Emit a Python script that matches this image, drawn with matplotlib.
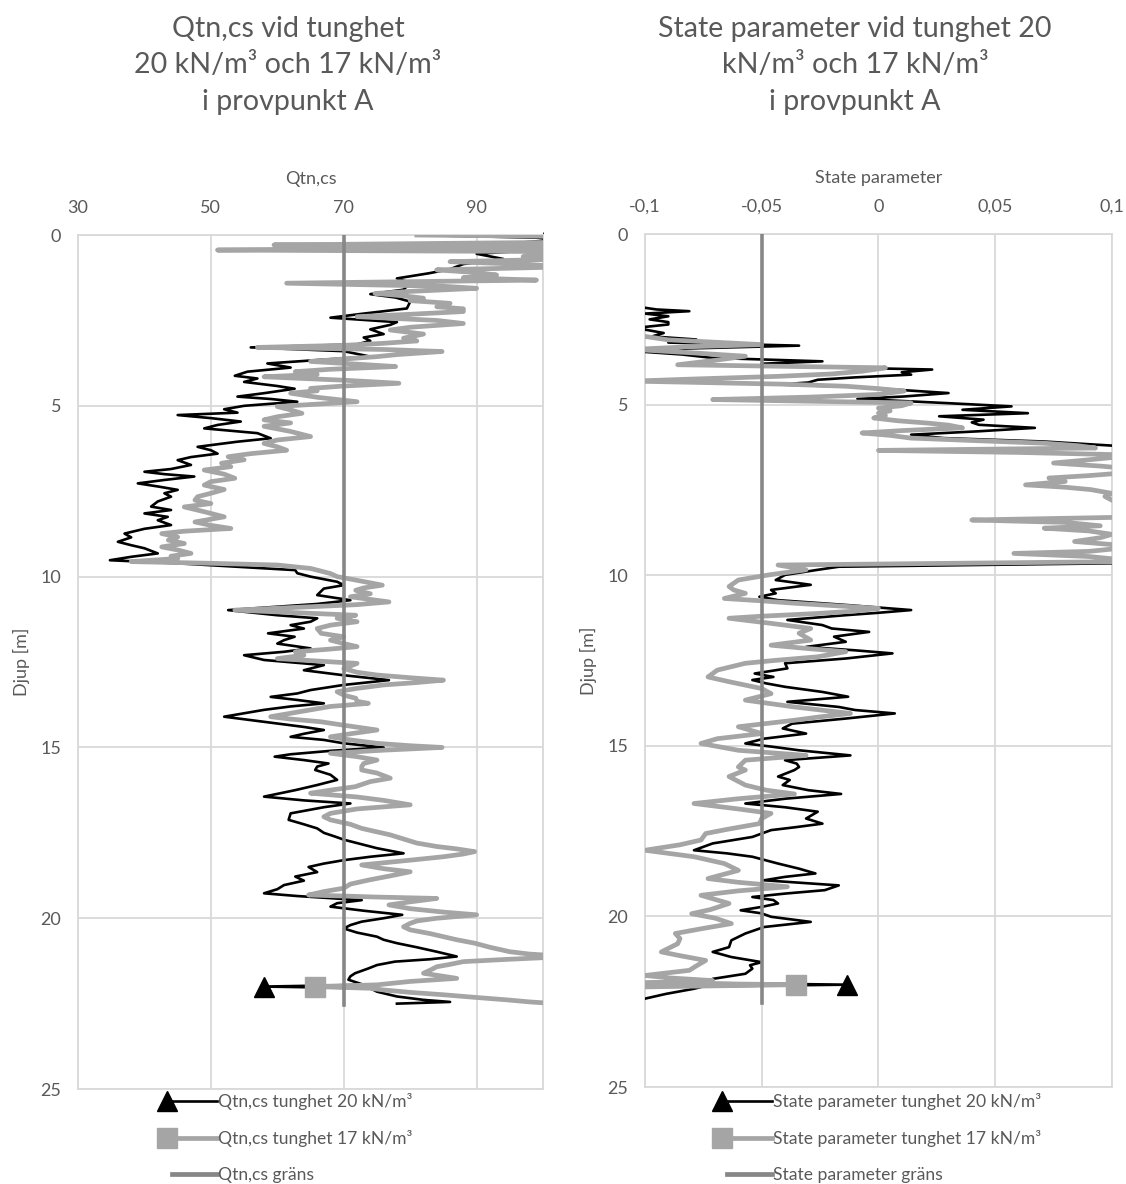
import numpy as np
import matplotlib
matplotlib.use("Agg")
import matplotlib.pyplot as plt
from matplotlib.lines import Line2D
from matplotlib.legend_handler import HandlerLine2DCompound

plt.rcParams['font.family'] = ['Lato', 'DejaVu Sans']

# Qtn,cs, tunghet 20 kN/m3 (djup [m], värde)
qtn20_depth = [0.0, 0.1, 0.25, 0.44, 0.55, 0.7, 0.85, 1.0, 1.12, 1.27, 1.4, 1.6, 1.73, 1.83, 1.95,
               2.15, 2.3, 2.42, 2.55, 2.63, 2.76, 2.9, 3.0, 3.1, 3.2, 3.29, 3.4, 3.56, 3.66, 3.76,
               3.88, 4.0, 4.12, 4.2, 4.3, 4.42, 4.5, 4.63, 4.73, 4.8, 4.88, 5.0, 5.1, 5.2, 5.27,
               5.36, 5.46, 5.56, 5.66, 5.73, 5.8, 5.95, 6.05, 6.2, 6.3, 6.4, 6.5, 6.59, 6.73, 6.85,
               6.93, 7.0, 7.07, 7.17, 7.27, 7.36, 7.46, 7.56, 7.66, 7.8, 7.95, 8.05, 8.15, 8.25, 8.35,
               8.49, 8.6, 8.74, 8.85, 8.98, 9.08, 9.17, 9.32, 9.42, 9.52, 9.61, 9.81, 9.9, 10.0, 10.15,
               10.25, 10.35, 10.54, 10.69, 10.8, 10.98, 11.05, 11.13, 11.22, 11.32, 11.42, 11.52, 11.66, 11.76, 11.86,
               11.96, 12.1, 12.2, 12.3, 12.44, 12.59, 12.74, 12.88, 13.03, 13.17, 13.32, 13.42, 13.52, 13.61, 13.71,
               13.8, 13.9, 14.0, 14.1, 14.2, 14.3, 14.4, 14.49, 14.6, 14.69, 14.78, 14.88, 15.0, 15.1, 15.2,
               15.27, 15.37, 15.47, 15.56, 15.66, 15.8, 15.95, 16.1, 16.25, 16.44, 16.55, 16.64, 16.75, 16.93, 17.12,
               17.25, 17.37, 17.5, 17.61, 17.7, 17.8, 17.95, 18.1, 18.2, 18.3, 18.4, 18.5, 18.65, 18.78, 18.9,
               19.03, 19.15, 19.27, 19.35, 19.47, 19.56, 19.66, 19.78, 19.9, 20.0, 20.1, 20.2, 20.3, 20.42, 20.54,
               20.63, 20.73, 20.85, 20.98, 21.12, 21.2, 21.27, 21.37, 21.47, 21.61, 21.7, 21.8, 21.95, 22.05, 22.15,
               22.29, 22.39, 22.45, 22.5]
qtn20_value = [81, 104, 95, 99, 90, 94, 88, 86, 82.8, 78, 80, 79, 74, 77.8, 80,
               79.5, 73, 68, 78, 77, 74, 76, 73, 74, 72, 56, 70, 74, 66, 58.5,
               62, 55.5, 53.6, 57, 55, 60, 62.6, 58, 54, 59, 63, 55, 52, 54, 45,
               50, 54.5, 51, 49, 53, 57, 59, 54, 48, 50, 51, 47, 45, 47, 44,
               40, 43, 47.5, 43, 39, 42, 45, 43, 44, 42, 41, 44, 40, 43.5, 42,
               44, 40, 37, 38, 36, 38, 40, 42, 38, 34.8, 45, 62.7, 63, 65, 69,
               70, 67, 66, 71, 66, 52.6, 56, 60, 66, 65, 62, 64, 58.6, 62.6, 61,
               60, 65, 61, 55, 58, 67, 64, 69.7, 76.8, 70, 65, 63, 59, 63, 67,
               62, 58, 55, 52, 56, 60, 64, 67, 64, 62, 67, 70, 76, 68, 62,
               59.6, 64, 67.7, 66, 65.7, 68, 69, 66, 62.7, 58, 64, 71, 67, 62, 61.7,
               64, 66, 67, 68.7, 70, 72, 75, 79, 74, 70, 67, 64.7, 66, 62.7, 64,
               61, 60, 58, 63, 72.7, 69, 68, 73, 78.8, 76, 72.7, 71, 70, 72, 75,
               76, 78, 81, 84, 87, 83, 77.7, 75, 73.7, 71.7, 71, 70.7, 73, 74, 75,
               78, 82, 86, 78]

# Qtn,cs, tunghet 17 kN/m3
qtn17_depth = [0.0, 0.05, 0.15, 0.2, 0.29, 0.35, 0.44, 0.49, 0.56, 0.63, 0.7, 0.78, 0.85, 0.93, 1.02,
               1.1, 1.17, 1.25, 1.32, 1.41, 1.5, 1.56, 1.65, 1.71, 1.78, 1.85, 1.92, 2.0, 2.1, 2.16,
               2.24, 2.32, 2.39, 2.5, 2.59, 2.7, 2.78, 2.9, 3.02, 3.1, 3.17, 3.23, 3.29, 3.35, 3.41,
               3.5, 3.56, 3.63, 3.7, 3.78, 3.85, 3.93, 4.0, 4.08, 4.15, 4.25, 4.34, 4.42, 4.49, 4.56,
               4.63, 4.75, 4.88, 4.95, 5.02, 5.12, 5.22, 5.32, 5.41, 5.5, 5.6, 5.75, 5.9, 6.0, 6.1,
               6.2, 6.3, 6.4, 6.49, 6.58, 6.68, 6.78, 6.88, 7.0, 7.12, 7.22, 7.32, 7.45, 7.56, 7.66,
               7.76, 7.86, 7.96, 8.1, 8.25, 8.4, 8.5, 8.59, 8.67, 8.74, 8.84, 8.93, 9.03, 9.13, 9.22,
               9.32, 9.4, 9.47, 9.56, 9.61, 9.66, 9.76, 9.91, 10.0, 10.1, 10.25, 10.33, 10.4, 10.5, 10.59,
               10.74, 10.82, 10.88, 10.98, 11.05, 11.13, 11.22, 11.32, 11.42, 11.52, 11.66, 11.76, 11.86, 11.96, 12.05,
               12.12, 12.2, 12.3, 12.4, 12.47, 12.54, 12.69, 12.8, 12.88, 12.96, 13.03, 13.1, 13.17, 13.27, 13.37,
               13.47, 13.56, 13.65, 13.71, 13.8, 13.9, 14.0, 14.1, 14.17, 14.25, 14.35, 14.49, 14.6, 14.69, 14.78,
               14.88, 14.95, 15.0, 15.08, 15.17, 15.27, 15.37, 15.47, 15.56, 15.66, 15.75, 15.9, 16.0, 16.15, 16.25,
               16.34, 16.45, 16.55, 16.68, 16.8, 16.93, 17.03, 17.12, 17.25, 17.37, 17.47, 17.56, 17.68, 17.8, 17.9,
               17.97, 18.05, 18.12, 18.2, 18.3, 18.44, 18.55, 18.64, 18.76, 18.88, 19.0, 19.12, 19.22, 19.32, 19.38,
               19.42, 19.52, 19.61, 19.72, 19.82, 19.9, 20.0, 20.08, 20.15, 20.25, 20.34, 20.45, 20.54, 20.63, 20.73,
               20.85, 20.98, 21.05, 21.12, 21.2, 21.27, 21.35, 21.42, 21.52, 21.61, 21.7, 21.76, 21.85, 21.95, 22.05,
               22.1, 22.17, 22.24, 22.32, 22.39, 22.45, 22.5]
qtn17_value = [81, 108, 105, 110, 59.5, 100, 51, 108, 100, 97, 105, 86, 96, 104, 84,
               90, 93, 88, 99, 61.4, 85, 90, 80, 74.7, 79, 82, 80, 86, 84, 88,
               88, 80, 72, 84, 88, 80, 77, 82, 79, 81, 76, 70, 57, 76, 84.8,
               78, 75, 70, 65, 72, 77.8, 68, 62.7, 66, 58, 70, 78.3, 70, 65, 66,
               62, 66, 72, 66, 60, 62, 63.7, 60, 58, 62, 58, 62, 65, 60, 58,
               60, 61.4, 56, 52.6, 55, 51.6, 53, 49, 52, 53.6, 50, 49, 52, 50, 48,
               47.6, 50, 46, 49, 52, 47.6, 50, 53, 46, 42.6, 45, 43.6, 46, 42.6, 45,
               47, 44, 45, 38, 50, 60, 65, 68, 69, 71.8, 75.8, 73, 71.8, 74, 71,
               76.8, 72, 65, 53.6, 62, 71.8, 69, 72, 68, 66, 66.6, 70, 68, 70, 72,
               68, 62.7, 64, 60, 66, 72, 70, 72, 75, 80, 85, 81, 76, 72, 69,
               70, 71.8, 72, 73.7, 68, 65, 62, 59, 62, 66.6, 70, 75, 71, 68, 71,
               75, 80, 84.8, 76, 68, 72, 75, 73, 72.7, 72.7, 75, 77, 74, 71.7, 68,
               65, 72, 76, 80, 72, 68, 67, 68, 71, 72.7, 75, 77, 79, 81, 84,
               87, 89.7, 88, 85, 80, 72.7, 76, 80, 77, 73.8, 71, 70, 67, 64.7, 75,
               84, 80, 76.8, 80, 85, 90, 84, 81, 80, 79, 80, 83, 85, 87, 89.7,
               92, 95, 98, 104, 95, 88, 86, 84, 83, 82, 85, 87, 80, 75, 74,
               76, 80, 85, 90, 94.6, 98, 102]

# State parameter, tunghet 20 kN/m3
sp20_depth = [0.0, 1.0, 2.0, 2.16, 2.21, 2.26, 2.33, 2.41, 2.5, 2.58, 2.65, 2.75, 2.9, 3.0, 3.09,
              3.18, 3.27, 3.35, 3.43, 3.53, 3.63, 3.73, 3.8, 3.88, 3.97, 4.05, 4.12, 4.2, 4.27, 4.35,
              4.41, 4.48, 4.54, 4.66, 4.76, 4.83, 4.95, 5.05, 5.15, 5.25, 5.34, 5.44, 5.52, 5.59, 5.68,
              5.78, 5.88, 5.98, 6.08, 6.2, 6.3, 6.37, 6.5, 7.0, 7.5, 8.0, 8.5, 9.0, 9.5, 9.65,
              9.75, 9.84, 9.99, 10.14, 10.28, 10.43, 10.53, 10.63, 10.73, 10.87, 11.02, 11.1, 11.17, 11.31, 11.46,
              11.56, 11.66, 11.8, 11.95, 12.1, 12.2, 12.29, 12.44, 12.58, 12.73, 12.88, 12.98, 13.07, 13.17, 13.27,
              13.42, 13.56, 13.71, 13.86, 13.95, 14.05, 14.2, 14.35, 14.49, 14.64, 14.79, 14.93, 15.03, 15.13, 15.28,
              15.42, 15.52, 15.62, 15.71, 15.9, 16.0, 16.15, 16.3, 16.41, 16.55, 16.69, 16.8, 16.93, 17.13, 17.28,
              17.38, 17.47, 17.67, 17.86, 18.06, 18.15, 18.25, 18.45, 18.6, 18.74, 18.84, 18.94, 19.09, 19.23, 19.33,
              19.43, 19.52, 19.62, 19.72, 19.82, 19.91, 20.01, 20.16, 20.31, 20.5, 20.6, 20.7, 20.9, 21.04, 21.19,
              21.34, 21.43, 21.53, 21.68, 21.83, 21.95, 22.05, 22.12, 22.27, 22.41, 22.5]
sp20_value = [-0.16, -0.15, -0.12, -0.1, -0.095, -0.081, -0.1, -0.09, -0.098, -0.09, -0.09, -0.104, -0.092, -0.097, -0.078,
              -0.09, -0.034, -0.08, -0.105, -0.084, -0.071, -0.024, -0.05, -0.04, 0.023, 0.01, 0.014, -0.01, -0.026, -0.03,
              -0.043, -0.01, 0.003, 0.03, 0.011, -0.009, 0.028, 0.057, 0.036, 0.064, 0.026, 0.045, 0.04, 0.043, 0.067,
              0.043, 0.014, 0.028, 0.071, 0.1, 0.104, 0.11, 0.12, 0.13, 0.12, 0.125, 0.12, 0.115, 0.11, 0.1,
              -0.017, -0.026, -0.04, -0.044, -0.029, -0.046, -0.044, -0.051, -0.043, -0.014, 0.014, 0.0, -0.014, -0.039, -0.024,
              -0.02, -0.004, -0.019, -0.014, -0.031, -0.01, 0.006, -0.014, -0.04, -0.039, -0.053, -0.045, -0.054, -0.048, -0.04,
              -0.024, -0.013, -0.039, -0.017, -0.01, 0.007, -0.014, -0.037, -0.041, -0.031, -0.049, -0.057, -0.045, -0.034, -0.012,
              -0.04, -0.035, -0.034, -0.036, -0.043, -0.038, -0.041, -0.03, -0.016, -0.04, -0.057, -0.04, -0.026, -0.031, -0.024,
              -0.035, -0.046, -0.054, -0.071, -0.079, -0.065, -0.054, -0.043, -0.034, -0.027, -0.04, -0.049, -0.017, -0.023, -0.04,
              -0.054, -0.045, -0.043, -0.05, -0.059, -0.05, -0.046, -0.029, -0.049, -0.057, -0.06, -0.063, -0.064, -0.071, -0.063,
              -0.05, -0.055, -0.054, -0.057, -0.071, -0.074, -0.075, -0.079, -0.091, -0.1, -0.105]

# State parameter, tunghet 17 kN/m3
sp17_depth = [0.0, 1.5, 2.8, 3.0, 3.1, 3.17, 3.24, 3.3, 3.38, 3.48, 3.58, 3.7, 3.83, 3.92, 4.02,
              4.1, 4.17, 4.25, 4.31, 4.4, 4.46, 4.53, 4.6, 4.7, 4.78, 4.85, 4.95, 5.03, 5.1, 5.18,
              5.25, 5.32, 5.39, 5.47, 5.54, 5.6, 5.68, 5.76, 5.83, 5.9, 5.98, 6.05, 6.13, 6.2, 6.27,
              6.34, 6.4, 6.47, 6.55, 6.61, 6.71, 6.8, 6.86, 7.0, 7.08, 7.15, 7.25, 7.35, 7.42, 7.49,
              7.6, 7.69, 7.8, 7.9, 8.1, 8.3, 8.38, 8.45, 8.55, 8.62, 8.7, 8.8, 8.9, 9.01, 9.1,
              9.2, 9.3, 9.36, 9.45, 9.55, 9.6, 9.7, 9.84, 9.99, 10.14, 10.33, 10.43, 10.53, 10.68, 10.75,
              10.82, 10.97, 11.05, 11.12, 11.2, 11.26, 11.41, 11.56, 11.7, 11.9, 12.05, 12.15, 12.24, 12.39, 12.5,
              12.58, 12.78, 12.98, 13.12, 13.32, 13.47, 13.66, 13.86, 14.05, 14.15, 14.25, 14.44, 14.64, 14.79, 14.93,
              15.13, 15.28, 15.42, 15.62, 15.71, 15.9, 16.15, 16.3, 16.41, 16.55, 16.69, 16.85, 16.98, 17.13, 17.28,
              17.45, 17.57, 17.76, 17.9, 18.06, 18.15, 18.25, 18.45, 18.65, 18.89, 19.0, 19.13, 19.25, 19.38, 19.5,
              19.62, 19.8, 19.92, 20.05, 20.21, 20.35, 20.5, 20.65, 20.8, 21.04, 21.15, 21.29, 21.45, 21.58, 21.73,
              21.8, 21.88, 21.95, 22.07, 22.27, 22.4]
sp17_value = [-0.17, -0.15, -0.12, -0.1, -0.09, -0.07, -0.05, -0.08, -0.105, -0.08, -0.057, -0.07, -0.086, 0.003, -0.007,
              -0.02, -0.043, -0.08, -0.105, -0.04, -0.014, 0.0, 0.011, 0.0, -0.03, -0.071, 0.014, 0.01, 0.0, 0.005,
              0.0, 0.003, -0.002, 0.008, 0.021, 0.03, 0.036, 0.01, -0.007, 0.005, 0.014, 0.04, 0.071, 0.085, 0.093,
              0.0, 0.06, 0.105, 0.1, 0.091, 0.075, 0.095, 0.105, 0.105, 0.09, 0.073, 0.08, 0.063, 0.08, 0.091,
              0.1, 0.097, 0.1, 0.104, 0.105, 0.104, 0.04, 0.08, 0.095, 0.071, 0.09, 0.1, 0.095, 0.084, 0.1,
              0.105, 0.09, 0.058, 0.09, 0.105, 0.105, -0.043, -0.031, -0.047, -0.06, -0.064, -0.062, -0.057, -0.066, -0.05,
              -0.036, 0.0, -0.01, -0.026, -0.05, -0.064, -0.046, -0.029, -0.034, -0.029, -0.046, -0.03, -0.014, -0.026, -0.045,
              -0.057, -0.069, -0.073, -0.064, -0.05, -0.046, -0.057, -0.036, -0.012, -0.025, -0.036, -0.06, -0.05, -0.069, -0.076,
              -0.06, -0.031, -0.057, -0.06, -0.057, -0.064, -0.057, -0.048, -0.036, -0.06, -0.079, -0.06, -0.046, -0.05, -0.051,
              -0.065, -0.074, -0.076, -0.085, -0.1, -0.09, -0.079, -0.066, -0.06, -0.073, -0.06, -0.039, -0.06, -0.076, -0.07,
              -0.064, -0.072, -0.08, -0.07, -0.063, -0.075, -0.087, -0.085, -0.086, -0.093, -0.085, -0.074, -0.078, -0.081, -0.1,
              -0.09, -0.071, -0.1, -0.105, -0.11, -0.12]

# Markerpunkter (djup 22 m) och gränsvärden
marker_depth = 22.0
qtn20_marker = 58.0
qtn17_marker = 65.7
sp20_marker = -0.0135
sp17_marker = -0.0355
qtn_limit = 70
sp_limit = -0.05
limit_depth = [0.0, 22.55]

BLACK = '#000000'
GREY = '#a5a5a5'
LIMIT = '#878787'
GRID = '#d9d9d9'
TEXT = '#595959'


class MarkerLeftHandler(HandlerLine2DCompound):
    # legend sample with the marker at the left end of the line
    def get_xdata(self, legend, xdescent, ydescent, width, height, fontsize):
        x0 = -xdescent + 0.17 * width
        return np.array([x0, -xdescent + width]), np.array([x0])


class ShortLineHandler(HandlerLine2DCompound):
    def get_xdata(self, legend, xdescent, ydescent, width, height, fontsize):
        x0 = -xdescent + 0.25 * width
        return np.array([x0, -xdescent + width]), np.array([x0])


def with_marker(depth, value, mval):
    d = np.asarray(depth, float)
    v = np.asarray(value, float)
    i = np.searchsorted(d, marker_depth)
    return np.insert(d, i, marker_depth), np.insert(v, i, mval)


def setup_axes(ax, xlim, xticks, xticklabels, xlabel):
    ax.set_xlim(*xlim)
    ax.set_ylim(25, 0)
    ax.xaxis.tick_top()
    ax.xaxis.set_label_position('top')
    ax.set_xticks(xticks)
    ax.set_xticklabels(xticklabels)
    ax.set_yticks(range(0, 26, 5))
    ax.tick_params(length=0, labelsize=13, colors=TEXT)
    ax.tick_params(axis='x', pad=14)
    ax.tick_params(axis='y', pad=12)
    ax.grid(True, color=GRID, linewidth=1.3)
    ax.set_axisbelow(True)
    for s in ax.spines.values():
        s.set_color(GRID)
        s.set_linewidth(1.3)
    ax.set_xlabel(xlabel, fontsize=13, color=TEXT)
    ax.xaxis.set_label_coords(0.5, 1.066)
    ax.xaxis.label.set_va('center')
    ax.set_ylabel('Djup [m]', fontsize=13, color=TEXT)
    ax.yaxis.set_label_coords(-0.121, 0.5)
    ax.yaxis.label.set_va('center')


def draw_panel(ax, d20, v20, m20, d17, v17, m17, limit):
    d, v = with_marker(d20, v20, m20)
    ax.plot(v, d, color=BLACK, lw=1.9, zorder=3)
    ax.plot([m20], [marker_depth], marker='^', color=BLACK, ms=14, zorder=5, clip_on=False)
    d, v = with_marker(d17, v17, m17)
    ax.plot(v, d, color=GREY, lw=3.4, zorder=4)
    ax.plot([m17], [marker_depth], marker='s', color=GREY, ms=14, zorder=5, clip_on=False)
    ax.plot([limit, limit], limit_depth, color=LIMIT, lw=2.6, zorder=6)


fig = plt.figure(figsize=(11.26, 11.84), dpi=100)
ax1 = fig.add_axes([0.0693, 0.0802, 0.413, 0.7213])
ax2 = fig.add_axes([0.5728, 0.0819, 0.4147, 0.7204])

setup_axes(ax1, (30, 100), [30, 50, 70, 90], ['30', '50', '70', '90'], 'Qtn,cs')
ax1.set_xticks([100], minor=True)
ax1.grid(True, which='minor', axis='x', color=GRID, linewidth=1.3)
draw_panel(ax1, qtn20_depth, qtn20_value, qtn20_marker,
           qtn17_depth, qtn17_value, qtn17_marker, qtn_limit)

setup_axes(ax2, (-0.1, 0.1), [-0.1, -0.05, 0, 0.05, 0.1],
           ['-0,1', '-0,05', '0', '0,05', '0,1'], 'State parameter')
draw_panel(ax2, sp20_depth, sp20_value, sp20_marker,
           sp17_depth, sp17_value, sp17_marker, sp_limit)

# titles
fig.text(288 / 1126, 0.945, 'Qtn,cs vid tunghet\n20 kN/m³ och 17 kN/m³\ni provpunkt A',
         ha='center', va='center', fontsize=20.6, color=TEXT, linespacing=1.5)
fig.text(855 / 1126, 0.945, 'State parameter vid tunghet 20\nkN/m³ och 17 kN/m³\ni provpunkt A',
         ha='center', va='center', fontsize=20.6, color=TEXT, linespacing=1.5)

# legends below each panel
for xpos, name in [(157 / 1126, 'Qtn,cs'), (712 / 1126, 'State parameter')]:
    h20 = Line2D([], [], color=BLACK, lw=1.9, marker='^', ms=14)
    h17 = Line2D([], [], color=GREY, lw=3.4, marker='s', ms=14)
    hlim = Line2D([], [], color=LIMIT, lw=3.4)
    labels = [f'{name} tunghet 20 kN/m³', f'{name} tunghet 17 kN/m³', f'{name} gräns']
    fig.legend([h20, h17, hlim], labels, loc='upper left',
               bbox_to_anchor=(xpos, 1 - 1093 / 1184), frameon=False,
               fontsize=12.6, handlelength=3.4, handletextpad=0.1, labelspacing=1.15,
               borderpad=0, borderaxespad=0, labelcolor=TEXT,
               handler_map={h20: MarkerLeftHandler(), h17: MarkerLeftHandler(),
                            hlim: ShortLineHandler()})

fig.savefig('out.png', dpi=100)
